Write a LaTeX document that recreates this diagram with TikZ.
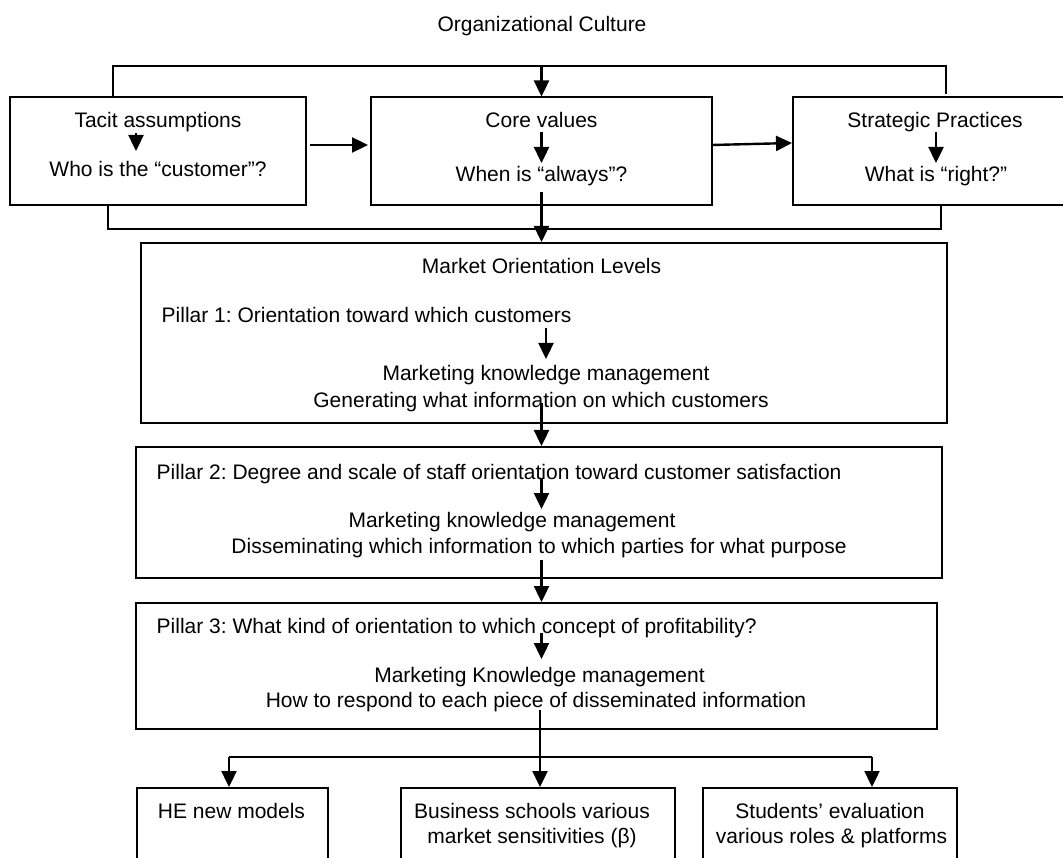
\documentclass[tikz,border=0pt]{standalone}
\usepackage{fontspec}
\setmainfont{Liberation Sans}
\usetikzlibrary{arrows.meta}
\frenchspacing
\begin{document}
\begin{tikzpicture}[x=1pt,y=-1pt,
  box/.style={draw, line width=2pt, inner sep=0pt},
  txt/.style={anchor=base, inner sep=0pt, font=\fontsize{21}{25}\selectfont},
  ltxt/.style={anchor=base west, inner sep=0pt, font=\fontsize{21}{25}\selectfont},
  arr/.style={line width=2.4pt, -{Triangle[length=16pt,width=15pt]}},
  ln/.style={line width=2.2pt},
  thin line/.style={line width=1.4pt},
]
\useasboundingbox (0,0) rectangle (1063,858);
\clip (0,0) rectangle (1063,858);

% title
\node[txt] (title) at (542,31.5) {Organizational Culture};

% top row boxes
\node[box, minimum width=296pt, minimum height=107.5pt] (tacit) at (158,151.25) {};
\node[box, minimum width=341pt, minimum height=107.5pt] (core) at (541.5,151.25) {};
\node[box, minimum width=284pt, minimum height=107.5pt] (strat) at (935,151.25) {};

\node[txt] (t1) at (158,128) {Tacit assumptions};
\node[txt] (t2) at (158,177) {Who is the “customer”?};
\node[txt] (c1) at (541.5,128) {Core values};
\node[txt] (c2) at (541.5,182) {When is “always”?};
\node[txt] (s1) at (935,128) {Strategic Practices};
\node[txt] (s2) at (936,182) {What is “right?”};

\coordinate (ta) at (136,133);
\coordinate (tb) at (136,151);
\draw[arr] (ta) -- (tb);
\coordinate (ca) at (541.5,132);
\coordinate (cb) at (541.5,163);
\draw[arr] (ca) -- (cb);
\coordinate (sa) at (936,132);
\coordinate (sb) at (936,163);
\draw[arr] (sa) -- (sb);

% horizontal arrows
\coordinate (h1a) at (310,145);
\coordinate (h1b) at (368,145);
\draw[arr] (h1a) -- (h1b);
\coordinate (h2a) at (712,145);
\coordinate (h2b) at (792,143);
\draw[arr] (h2a) -- (h2b);

% top frame
\coordinate (fl) at (113,66);
\coordinate (fr) at (946,66);
\coordinate (fm) at (541.5,66);
\draw[ln] (fl |- tacit.north) -- (fl) -- (fr) -- ++(0,28);
\draw[arr] (fm) -- (core.north);

% bottom frame
\coordinate (gl) at (108,229);
\coordinate (gr) at (941,229);
\draw[ln] (gl |- tacit.south) -- (gl) -- (gr) -- (gr |- strat.south);

% market orientation box
\node[box, minimum width=806pt, minimum height=180pt] (mol) at (544,333) {};
\node[txt] (m0) at (541.5,274) {Market Orientation Levels};
\node[ltxt] (m1) at (161.5,323) {Pillar 1: Orientation toward which customers};
\coordinate (ma) at (546,328);
\coordinate (mb) at (546,359);
\draw[arr] (ma) -- (mb);
\node[txt] (m2) at (546,381) {Marketing knowledge management};
\node[txt] (m3) at (541,407) {Generating what information on which customers};

\coordinate (k1) at (541.5,192);
\draw[arr] (k1) -- (k1 |- mol.north);

% pillar 2
\node[box, minimum width=806pt, minimum height=131pt] (p2) at (539,512.5) {};
\node[ltxt] (p2a) at (156.5,479) {Pillar 2: Degree and scale of staff orientation toward customer satisfaction};
\coordinate (pa) at (541.5,478);
\coordinate (pb) at (541.5,509);
\draw[arr] (pa) -- (pb);
\node[txt] (p2b) at (512,527) {Marketing knowledge management};
\node[txt] (p2c) at (539,553) {Disseminating which information to which parties for what purpose};

\coordinate (k2) at (541.5,403);
\draw[arr] (k2) -- (k2 |- p2.north);

% pillar 3
\node[box, minimum width=801pt, minimum height=126pt] (p3) at (536.5,666) {};
\node[ltxt] (p3a) at (156.5,633) {Pillar 3: What kind of orientation to which concept of profitability?};
\coordinate (qa) at (541.5,633);
\coordinate (qb) at (541.5,659);
\draw[arr] (qa) -- (qb);
\node[txt] (p3b) at (539.5,682) {Marketing Knowledge management};
\node[txt] (p3c) at (536,707) {How to respond to each piece of disseminated information};

\coordinate (k3) at (541.5,560);
\draw[arr] (k3) -- (k3 |- p3.north);

% bottom boxes
\node[box, minimum width=191pt, minimum height=92pt] (b1) at (232.5,834) {};
\node[box, minimum width=274pt, minimum height=92pt] (b2) at (538,834) {};
\node[box, minimum width=254pt, minimum height=92pt] (b3) at (830,834) {};
\node[txt] (b1a) at (231.5,818) {HE new models};
\node[txt] (b2a) at (532,818) {Business schools various};
\node[txt] (b2b) at (532,843) {market sensitivities (β)};
\node[txt] (b3a) at (830,818) {Students’ evaluation};
\node[txt] (b3b) at (831.5,843) {various roles \& platforms};

% branching
\coordinate (r0) at (540,710);
\coordinate (rm) at (540,757);
\coordinate (rl) at (229,757);
\coordinate (rr) at (872,757);
\draw[thin line] (r0) -- (rm);
\draw[ln] (rl) -- (rr);
\draw[arr] (rl) -- (rl |- b1.north);
\draw[arr] (rm) -- (rm |- b2.north);
\draw[arr] (rr) -- (rr |- b3.north);
\end{tikzpicture}
\end{document}
